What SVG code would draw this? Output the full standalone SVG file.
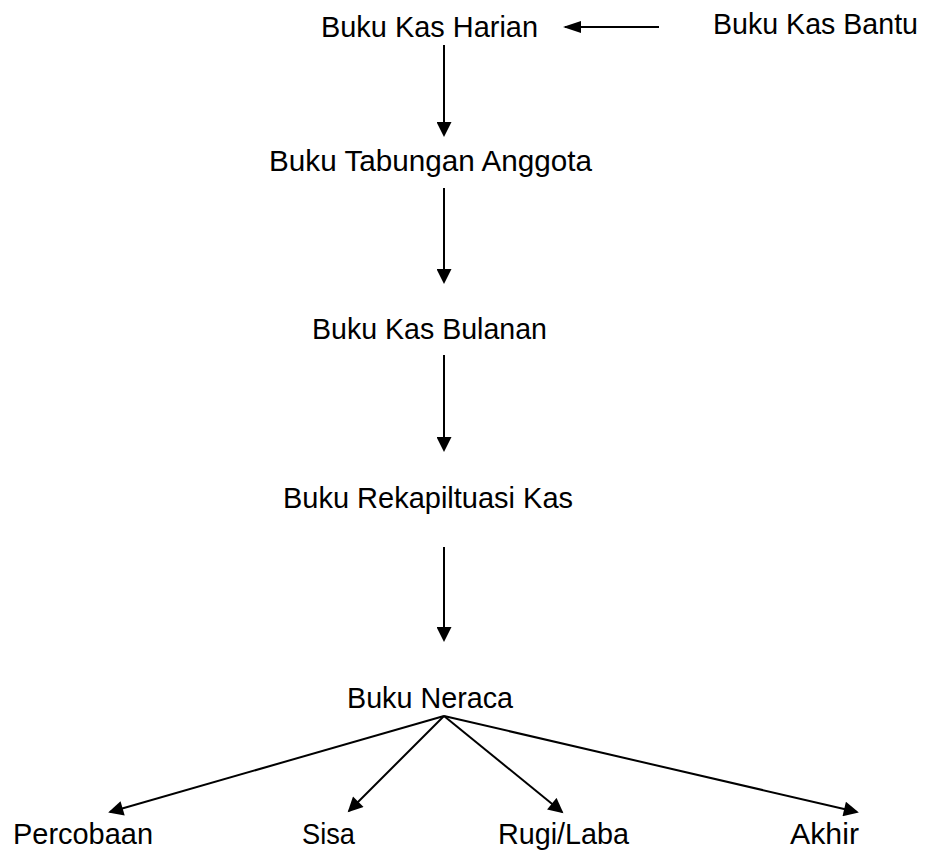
<svg xmlns="http://www.w3.org/2000/svg" width="925" height="851" viewBox="0 0 925 851">
<style>
text{font-family:"Liberation Sans",Arial,sans-serif;font-size:29px;fill:#000}
.c line{stroke:#000;stroke-width:2;fill:none}
</style>
<defs>
<marker id="av" viewBox="0 0 16 16" markerUnits="userSpaceOnUse" markerWidth="16" markerHeight="15" refX="14" refY="8" orient="auto">
<path d="M0,0 L16,8 L0,16 z" fill="#000"/>
</marker>
<marker id="ah" viewBox="0 0 18 12" markerUnits="userSpaceOnUse" markerWidth="18" markerHeight="12" refX="16" refY="6" orient="auto">
<path d="M0,0 L18,6 L0,12 z" fill="#000"/>
</marker>
</defs>
<rect width="925" height="851" fill="#fff"/>
<g id="n1"><text x="321" y="37" textLength="217" lengthAdjust="spacingAndGlyphs">Buku Kas Harian</text></g>
<g id="n2"><text x="713" y="34" textLength="205" lengthAdjust="spacingAndGlyphs">Buku Kas Bantu</text></g>
<g id="n3"><text x="269" y="171" textLength="323" lengthAdjust="spacingAndGlyphs">Buku Tabungan Anggota</text></g>
<g id="n4"><text x="312" y="339" textLength="235" lengthAdjust="spacingAndGlyphs">Buku Kas Bulanan</text></g>
<g id="n5"><text x="283" y="508" textLength="290" lengthAdjust="spacingAndGlyphs">Buku Rekapiltuasi Kas</text></g>
<g id="n6"><text x="347" y="708" textLength="166" lengthAdjust="spacingAndGlyphs">Buku Neraca</text></g>
<g id="n7"><text x="13" y="844" textLength="140" lengthAdjust="spacingAndGlyphs">Percobaan</text></g>
<g id="n8"><text x="302" y="844" textLength="53" lengthAdjust="spacingAndGlyphs">Sisa</text></g>
<g id="n9"><text x="498" y="844" textLength="131" lengthAdjust="spacingAndGlyphs">Rugi/Laba</text></g>
<g id="n10"><text x="790" y="844" textLength="69" lengthAdjust="spacingAndGlyphs">Akhir</text></g>
<g id="connectors" class="c">
<line x1="659" y1="27" x2="565" y2="27" marker-end="url(#ah)"/>
<line x1="444" y1="45" x2="444" y2="135" marker-end="url(#av)"/>
<line x1="444" y1="188" x2="444" y2="282" marker-end="url(#av)"/>
<line x1="444" y1="355" x2="444" y2="450" marker-end="url(#av)"/>
<line x1="444" y1="547" x2="444" y2="640" marker-end="url(#av)"/>
<line x1="444" y1="716" x2="110" y2="812" marker-end="url(#av)"/>
<line x1="444" y1="716" x2="349" y2="811" marker-end="url(#av)"/>
<line x1="444" y1="716" x2="562" y2="812" marker-end="url(#av)"/>
<line x1="444" y1="716" x2="857" y2="812" marker-end="url(#av)"/>
</g>
</svg>
